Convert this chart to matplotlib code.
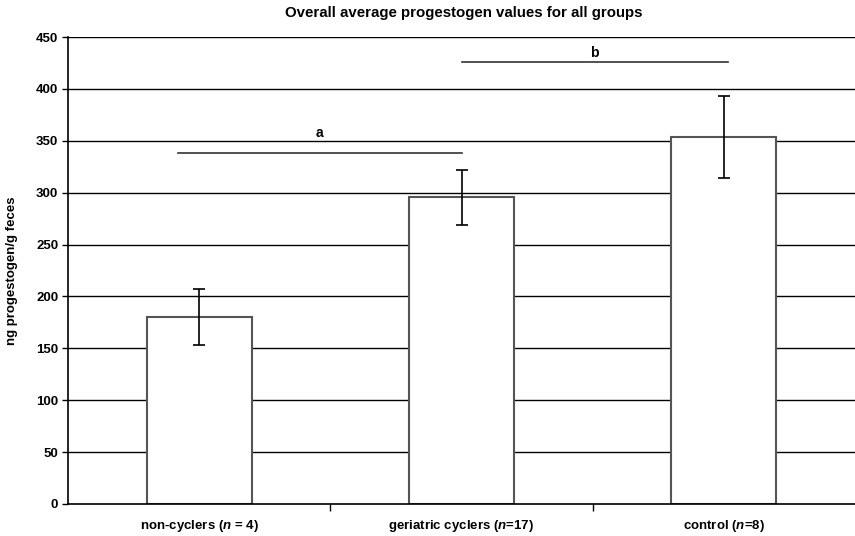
import matplotlib
matplotlib.use('Agg')
import matplotlib.pyplot as plt

groups = ['non-cyclers ($n$ = 4)', 'geriatric cyclers ($n$=17)', 'control ($n$=8)']
means = [180.2, 295.5, 353.6]
errors = [26.6, 26.5, 39.5]
yticks = [0, 50, 100, 150, 200, 250, 300, 350, 400, 450]

# significance bars: (x start, x end, line y, label y, label)
sig_a = (-0.08, 1.0, 338.5, 357.5, 'a')
sig_b = (1.0, 2.015, 426, 435, 'b')

plt.rcParams['font.family'] = ['Liberation Sans', 'DejaVu Sans']
plt.rcParams['mathtext.fontset'] = 'custom'
plt.rcParams['mathtext.it'] = 'Liberation Sans:bold:italic'
plt.rcParams['mathtext.rm'] = 'Liberation Sans:bold'

fig = plt.figure(figsize=(8.55, 5.36), dpi=100)
ax = fig.add_axes([68/855, 32/536, 1 - 68/855, 467/536])

x = range(len(groups))
ax.bar(x, means, width=0.40, color='white', edgecolor='#555555', linewidth=1.5, zorder=2)
ax.errorbar(x, means, yerr=errors, fmt='none', ecolor='black', elinewidth=1.2,
            capsize=4, capthick=1.2, zorder=3)

for y in yticks[1:]:
    ax.axhline(y, color='black', linewidth=1.0, zorder=1)

for x0, x1, y, ty, lab in [sig_a, sig_b]:
    ax.plot([x0, x1], [y, y], color='#333333', linewidth=1.2, zorder=3)
    ax.text((x0 + x1) / 2, ty, lab, ha='center', va='center',
            fontsize=10, fontweight='bold')

ax.set_xlim(-0.5, 2.5)
ax.set_ylim(0, 450)
ax.set_yticks(yticks)
ax.set_yticklabels([str(v) for v in yticks], fontsize=9.5, fontweight='bold')
ax.set_xticks([0.5, 1.5], minor=False)
ax.set_xticklabels(['', ''])
ax.set_xticks(list(x), minor=True)
ax.set_xticklabels(groups, minor=True, fontsize=9.5, fontweight='bold')
ax.tick_params(axis='x', which='minor', length=0, pad=10)
ax.tick_params(axis='x', which='major', length=5, width=1, direction='out')
ax.tick_params(axis='y', length=4, width=1, direction='out', pad=3)

for s in ['top', 'right']:
    ax.spines[s].set_visible(False)
ax.spines['left'].set_linewidth(1.2)
ax.spines['bottom'].set_linewidth(1.2)

ax.set_ylabel('ng progestogen/g feces', fontsize=9.5, fontweight='bold')
ax.yaxis.set_label_coords(-50/787, 0.5)
fig.text(464/855, 1 - 13/536, 'Overall average progestogen values for all groups',
         ha='center', va='center', fontsize=10.8, fontweight='bold')

fig.savefig('out.png', dpi=100)
